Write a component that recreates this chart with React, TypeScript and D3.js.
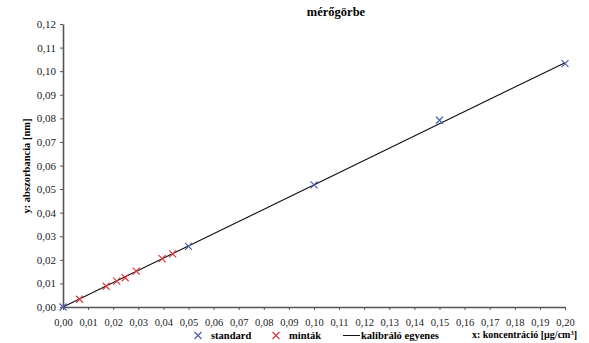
import React, { useEffect, useRef } from 'react';
import * as d3 from 'd3';

// standard solutions (blue) and samples (red)
const standardX = [0, 0.05, 0.1, 0.15, 0.2];
const standardY = [0, 0.0257, 0.0518, 0.0792, 0.1032];
const sampleX = [0.0066, 0.0172, 0.0214, 0.0248, 0.0292, 0.0395, 0.0437];
const sampleY = [0.0033, 0.0088, 0.0110, 0.0124, 0.0152, 0.0205, 0.0225];
// calibration line endpoints
const lineX = [0, 0.2];
const lineY = [0, 0.1036];

const xTicks = d3.range(0, 21).map(i => i / 100);
const yTicks = d3.range(0, 13).map(i => i / 100);

const W = 589;
const H = 343;
const FONT = 'Liberation Serif';

export default function App() {
  const ref = useRef<SVGSVGElement>(null);

  useEffect(() => {
    const svg = d3.select(ref.current);
    svg.selectAll('*').remove();

    const margin = { top: 24, right: 24, bottom: 36, left: 63 };
    const x = d3.scaleLinear().domain([0, 0.2]).range([margin.left, W - margin.right]);
    const y = d3.scaleLinear().domain([0, 0.12]).range([H - margin.bottom, margin.top]);
    const fmt = (d: number) => d.toFixed(2).replace('.', ',');

    // title
    svg.append('text')
      .attr('x', 336).attr('y', 16)
      .attr('text-anchor', 'middle')
      .attr('font-family', FONT).attr('font-weight', 'bold').attr('font-size', 12.5)
      .text('mérőgörbe');

    // axes
    const xAxis = svg.append('g')
      .attr('transform', `translate(0,${y(0)})`)
      .call(d3.axisBottom(x).tickValues(xTicks).tickFormat(d => fmt(+d)).tickSize(3).tickSizeOuter(0));
    xAxis.attr('font-family', FONT).attr('font-size', 10.5);
    xAxis.select('.domain').attr('stroke', '#555').attr('stroke-width', 1.6);
    xAxis.selectAll('line').attr('stroke', '#555');
    xAxis.selectAll('text').attr('dy', 13).attr('fill', '#222');

    const yAxis = svg.append('g')
      .attr('transform', `translate(${x(0)},0)`)
      .call(d3.axisLeft(y).tickValues(yTicks).tickFormat(d => fmt(+d)).tickSize(3).tickSizeOuter(0));
    yAxis.attr('font-family', FONT).attr('font-size', 11);
    yAxis.select('.domain').attr('stroke', '#555').attr('stroke-width', 1.6);
    yAxis.selectAll('line').attr('stroke', '#555');
    yAxis.selectAll('text').attr('x', -7).attr('fill', '#222');

    // axis titles
    svg.append('text')
      .attr('transform', `translate(30,${166}) rotate(-90)`)
      .attr('text-anchor', 'middle')
      .attr('font-family', FONT).attr('font-weight', 'bold').attr('font-size', 10.5)
      .text('y: abszorbancia [nm]');

    const xt = svg.append('text')
      .attr('x', 577).attr('y', 338)
      .attr('text-anchor', 'end')
      .attr('font-family', FONT).attr('font-weight', 'bold').attr('font-size', 10);
    xt.append('tspan').text('x: koncentráció [µg/cm');
    xt.append('tspan').attr('dy', -3).attr('font-size', 6.5).text('3');
    xt.append('tspan').attr('dy', 3).text(']');

    // calibration line
    const line = d3.line<number>().x(d => x(lineX[d])).y(d => y(lineY[d]));
    svg.append('path')
      .attr('d', line([0, 1]))
      .attr('stroke', '#111').attr('stroke-width', 1.1).attr('fill', 'none');

    const cross = (g: any, cx: number, cy: number, color: string) => {
      const s = 3.5;
      g.append('path')
        .attr('d', `M${cx - s},${cy - s}L${cx + s},${cy + s}M${cx - s},${cy + s}L${cx + s},${cy - s}`)
        .attr('stroke', color).attr('stroke-width', 1.2).attr('fill', 'none');
    };

    const blue = '#4b5cb5';
    const red = '#e0383c';
    const marks = svg.append('g');
    sampleX.forEach((v, i) => cross(marks, x(v), y(sampleY[i]), red));
    standardX.forEach((v, i) => cross(marks, x(v), y(standardY[i]), blue));

    // legend
    const ly = 339;
    const leg = svg.append('g').attr('font-family', FONT).attr('font-weight', 'bold').attr('font-size', 10.5);
    cross(leg, 198, ly - 3.5, blue);
    leg.append('text').attr('x', 211).attr('y', ly).text('standard');
    cross(leg, 276, ly - 3.5, red);
    leg.append('text').attr('x', 289).attr('y', ly).text('minták');
    leg.append('line').attr('x1', 343).attr('x2', 360).attr('y1', ly - 3.5).attr('y2', ly - 3.5)
      .attr('stroke', '#111').attr('stroke-width', 1);
    leg.append('text').attr('x', 361).attr('y', ly).text('kalibráló egyenes');
  }, []);

  return (
    <svg ref={ref} width={W} height={H} style={{ position: 'absolute', left: 0, top: 0, background: '#fff' }} />
  );
}
